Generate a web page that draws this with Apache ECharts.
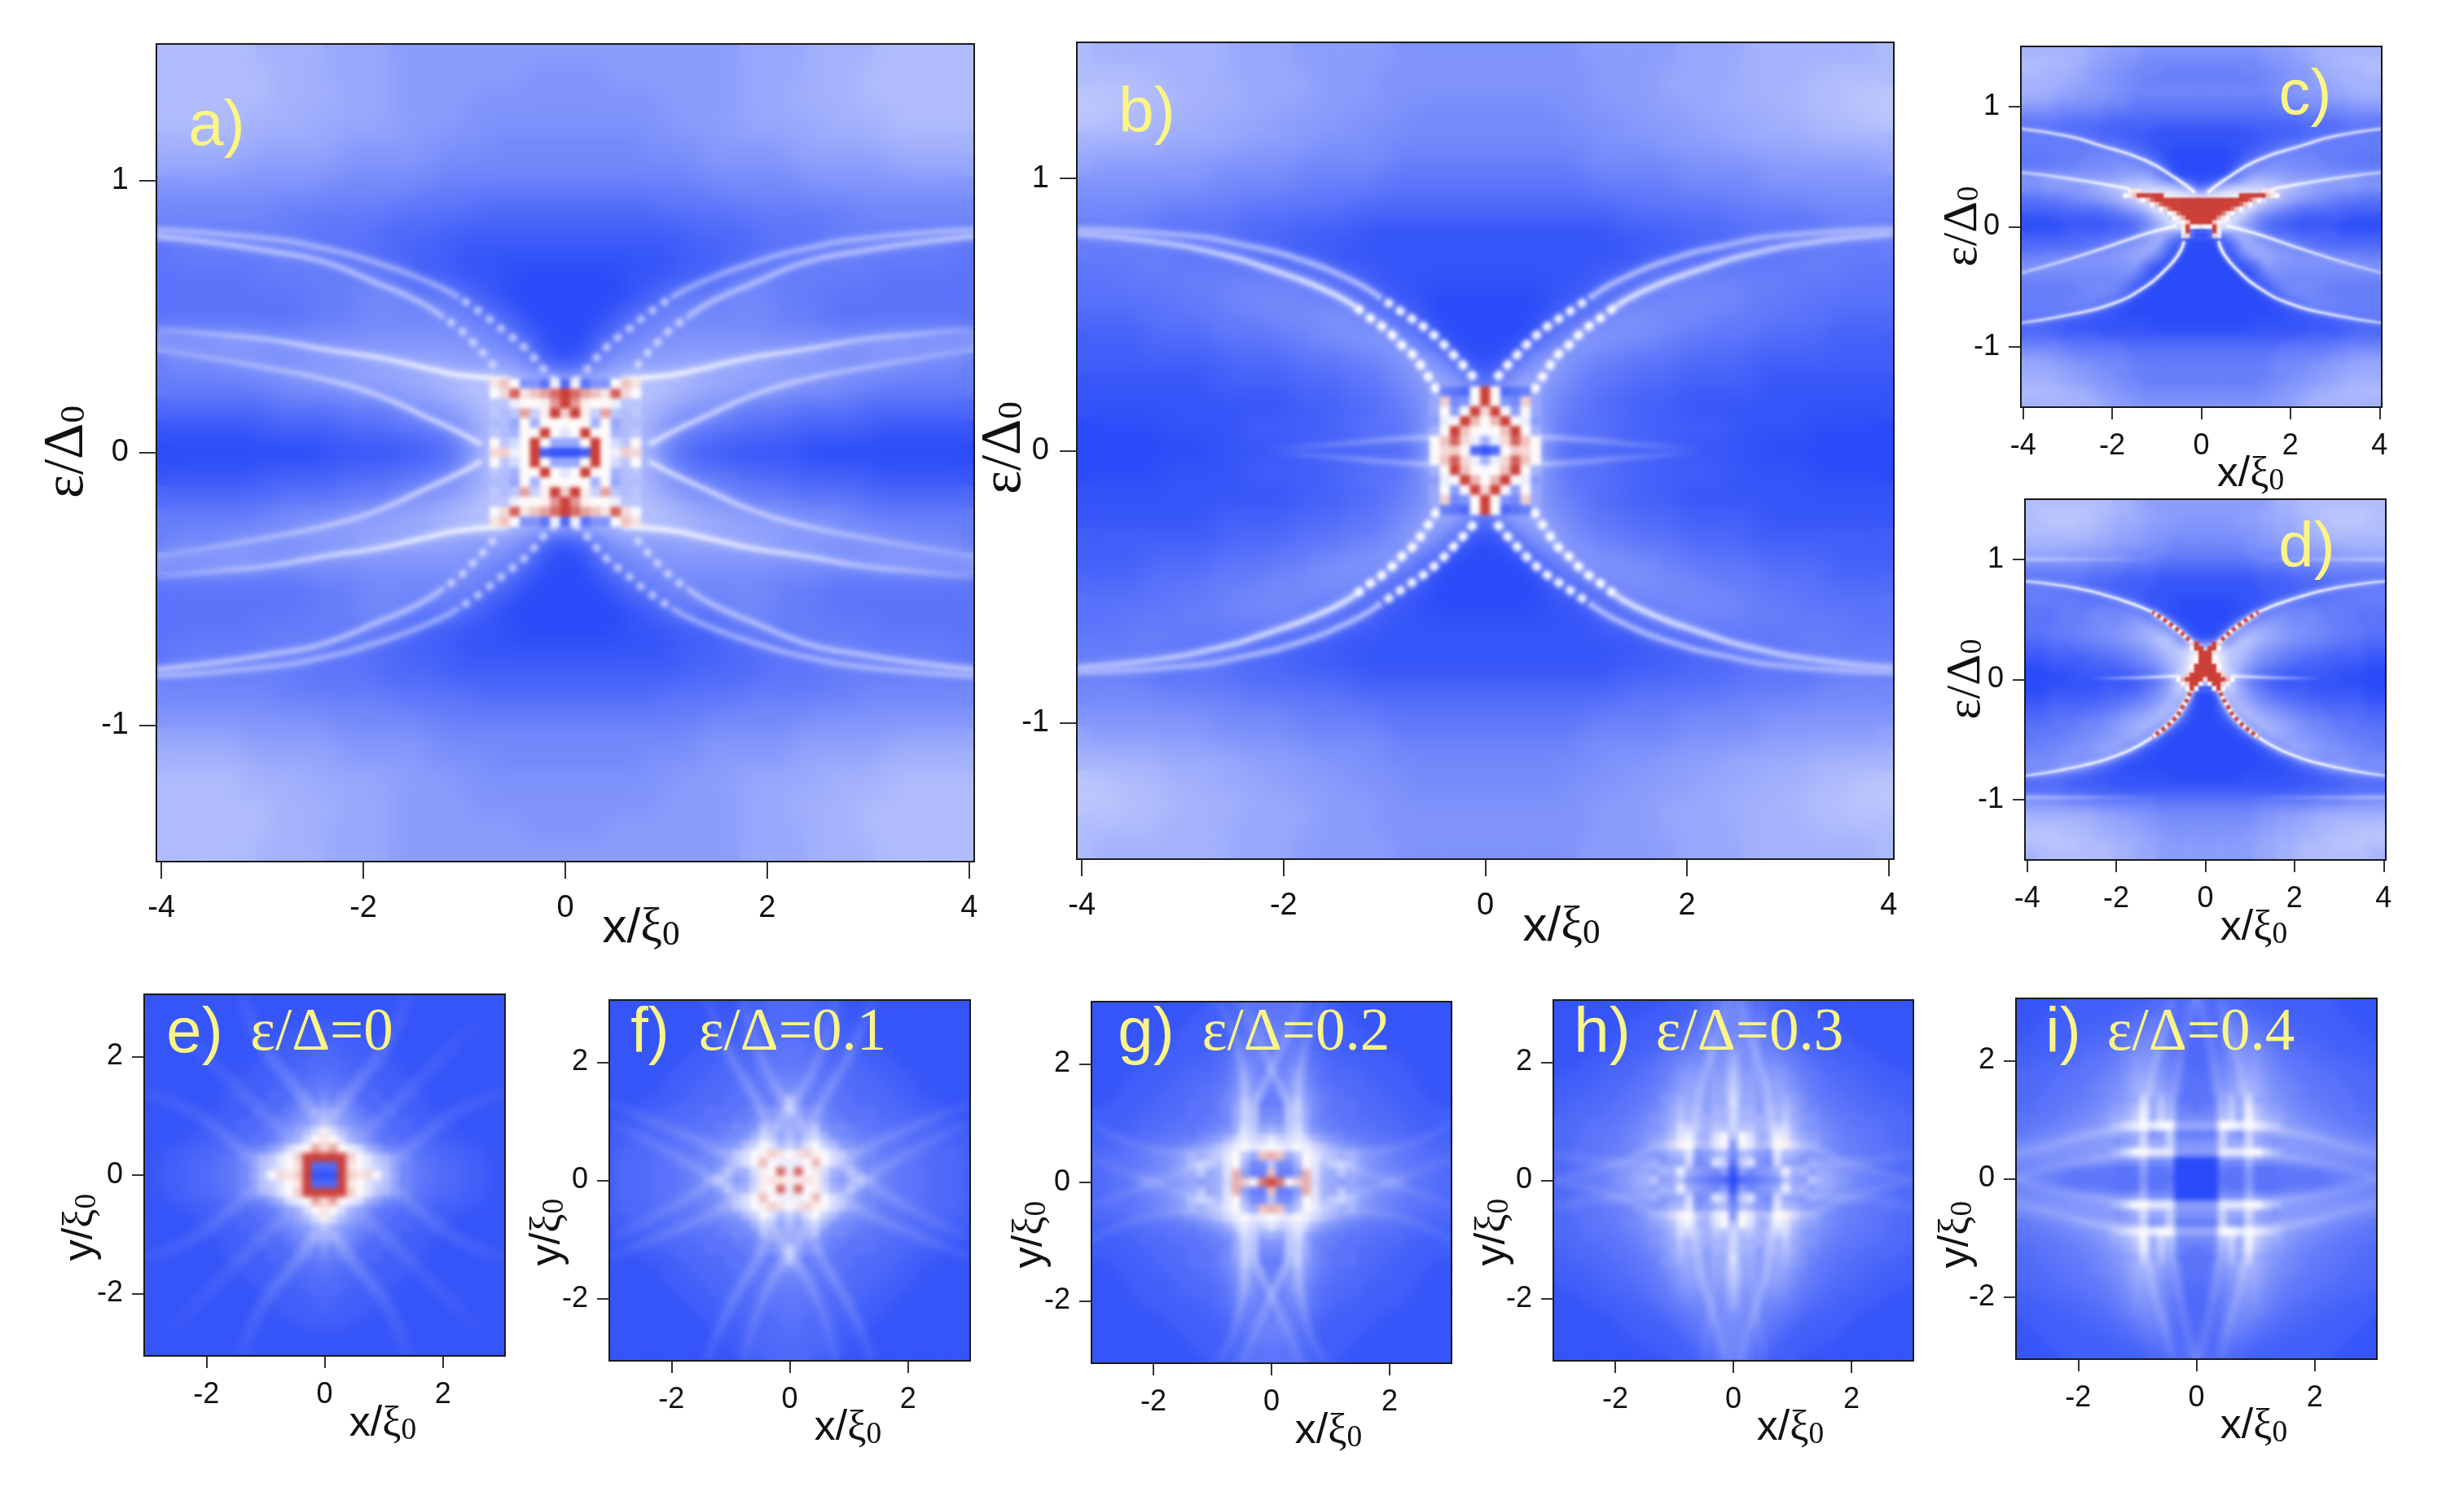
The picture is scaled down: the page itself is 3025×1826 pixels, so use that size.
<!DOCTYPE html>
<html>
<head>
<meta charset="utf-8">
<style>html,body{margin:0;background:#fff}#chart{width:3025px;height:1826px}</style>
<script src="https://cdn.jsdelivr.net/npm/echarts@6/dist/echarts.min.js"></script>
</head>
<body>
<div id="chart"></div>
<script>
// Levels, one base-36 character per cell:
// 0 deep blue, i white, z red, '.' no cell.
// a, b, e-i are typed as one quadrant (rows top to centre, columns centre to edge)
// because the picture is symmetric. c, d are typed top to bottom, right half only.

var bigXTicks = [-4, -2, 0, 2, 4];
var bigYTicks = [-1, 0, 1];
var mapTicks = [-2, 0, 2];
var panelLetters = ['a)', 'b)', 'c)', 'd)', 'e)', 'f)', 'g)', 'h)', 'i)'];
var mapEnergies = ['ε/Δ=0', 'ε/Δ=0.1', 'ε/Δ=0.2', 'ε/Δ=0.3', 'ε/Δ=0.4'];

var aCoarse = [
  '888888888889999aaaabbbbbb','777888888889999aaabbbbbbb','77777788888999aaaabbbbbbb',
  '7777777888899999aaaabbbbb','6666677778888899999aaaaaa','6666666677777788888899999',
  '5555555556666667777777777','3333334444455555556666666','2222222233334444555555555',
  '1111111222334445555555554','0000111223455555555444444','0000124555666555444444444',
  '0002456666666555444444444','0035677777777777777888888','1258888999999888777776665',
  'cccccccba9988877766555555','bbbbbb9877655544443333333','bbbbba7654433322222111111',
  'ccccca6322111110000000000'
];
var aCenter = ['3g477hnk','zvqnkwlh','zrjiigcc','mzjdqcbc','iiiai9bb','fiziiabc','99izieci','112zigml'];
var aArcInnerNear = [[.09,.26],[.2,.30],[.3,.345],[.4,.385],[.495,.415],[.6,.445],[.7,.475],[.8,.505],[1.05,.57]];
var aArcInnerFar = [[1.05,.57],[1.31,.62],[1.85,.695],[2.39,.75],[2.93,.785],[4.06,.82]];
var aArcOuterNear = [[.7,.315],[.8,.36],[.9,.40],[.99,.435],[1.1,.47],[1.2,.495]];
var aArcOuterFar = [[1.2,.495],[1.45,.555],[1.85,.62],[2.39,.70],[2.93,.74],[3.47,.77],[4.06,.795]];
var aFlareUpper = [[.56,.27],[1.05,.285],[1.31,.305],[1.85,.35],[2.39,.38],[2.93,.415],[3.47,.435],[4.06,.455]];
var aFlareLower = [[.83,.03],[1.05,.075],[1.37,.13],[1.85,.21],[2.39,.27],[2.93,.31],[3.47,.345],[4.06,.38]];

var bCoarse = [
  '7777778888889999aaaaaaaab','7777777888899999aaaabbbbb','777777788889999aaaabbbccc',
  '66666777788889999aaabbbcc','66666667777888899999aaaaa','5555556666667777788888889',
  '4444444555556666677777777','3333333334444445555566666','1111111122223333444445555',
  '1111111111222334444555555','1111111223445555555555444','0000112345566666555444444',
  '0000235677766655544443333','0002578776655444433332222','0148976554443333222222222',
  '36a9765443332222211111111','8ba8654332221111111111111','acc9644433222221111100000',
  'ccca533322221111100000000'
];
var bCenter = ['zi345.','zi76m9','lzh8i9','iozhg8','hinzia','aglwni','13imli'];
var bArcUpperNear = [[.107,.265],[.21,.31],[.31,.35],[.41,.39],[.51,.425],[.61,.455],[.71,.48],[.81,.505],[1.05,.565]];
var bArcUpperFar = [[1.05,.565],[1.32,.625],[1.855,.705],[2.39,.755],[2.93,.79],[4.06,.815]];
var bArcLowerNear = [[.417,.17],[.51,.24],[.61,.295],[.70,.345],[.806,.38],[.91,.42],[1.0,.45],[1.115,.48],[1.29,.53]];
var bArcLowerFar = [[1.29,.53],[1.585,.59],[2.12,.665],[2.66,.725],[3.33,.77],[4.06,.795]];
var bStreak = [[.5,.05],[1.0,.04],[1.6,.02],[2.2,.01]];

var cCoarse = [
  '77777788899aaaaaa','66666677889aabbbb','555566677889aaabb','5555556677899aaaa','66666667788899aaa',
  '55555556677788999','44444445556666777','33333333344445555','11111222223333444','11111122334455555',
  '00011234555555555','00002456666555444','00025677766655555','00037a99888888877','17bddddcba9888877',
  'iiiiiidca98765544','iiiiica8654443333','iiieb754322222111','gggd8632211110000','0038b764433332222',
  '0013a987654333333','00026a98877766655','00001397777777777','00000257666666666','00000125666655555',
  '00000013666555555','00000001246665555','00000000112345555','00000111111112233','11111111112222333',
  '33333333444445555','44444445555566777','55555556667788999','55555556677889999','55555566778899aaa',
  '66666677889aabbbb','7777777889aaaaaaa'
];
var cCenter = [
  '..............kkj.','.........zzzzzznki','zzzzzzzzzzzvnie...','zzzzzzzzzvnid.....','zzzzzzzvnid.......',
  'zzzzzvlid.........','zzzzqkid..........','zzznjg............','kiizke............','224zg.............','113mf.............'
];
var cArcUpper = [[.14,.28],[.245,.315],[.56,.40],[1.26,.553],[2.3,.68],[3.0,.755],[4.06,.816]];
var cArcLower = [[.385,-.12],[.52,-.235],[.84,-.37],[1.26,-.50],[1.96,-.635],[3.0,-.735],[4.06,-.80]];
var cFlareUpper = [[1.6,.315],[3,.403],[4.06,.453]];
var cFlareLower = [[.42,.015],[.63,.0025],[1.26,-.06],[1.96,-.148],[3,-.273],[4.06,-.385]];

var dCoarse = [
  '8888889aabbbbbbbb','8888899aabbcccccb','777888999abbcccbb','777778899aabbbbbb','66667788899aaaaaa',
  '55556667788889999','44444555666777777','22222333444555555','11111222233344444','11111122233444555',
  '00011123444455555','00001256666555444','00025787666555444','00279a98776655544','016bda98766554433',
  'iidca876554433322','iicb9765433222211','iida7543222211100','iif95321111110000','01fa7532221111100',
  '00ba8654332222211','006ca876544333322','0028ca98765544433','00026ba9876655444','000015a9877665554',
  '00000137a98776655','00000012488777666','00000000124688777','00001111111223444','11111111122223333',
  '33333333333444555','55555666667778888','66666778899aaaaaa','7777788999aabbbbb','777788999aabbbccc',
  '8888899aabbbcccbb','8888899aabbbbbbba'
];
var dCenter = [
  '..zm...','.zzi...','zzk....','zzi....','zzi....','zzzi...','zzzk...','zzzzm..','kzzzzpi','aizzmg.','22izi..'
];
var dArcUpperNear = [[.14,.236],[.35,.324],[.70,.437],[1.19,.562]];
var dArcUpperFar = [[1.19,.562],[1.89,.662],[2.94,.763],[4.06,.818]];
var dArcLowerNear = [[.245,.01],[.315,-.09],[.49,-.216],[.73,-.341],[1.19,-.479]];
var dArcLowerFar = [[1.19,-.479],[1.89,-.617],[2.94,-.73],[4.06,-.80]];
var dStreak = [[.56,.03],[1.54,.015],[2.6,.01]];
var dBandUpper = [[1,1],[4.06,1]];
var dBandLower = [[1,-.98],[4.06,-.98]];

var eMap = [
  '111111111111111111111','111111111111111111111','111111111111111111111','222111111111111111111',
  '222221111111111111111','322222111111111111111','332222211111111111111','333222221111111111111',
  '433322222111111111111','443332222211111111111','544333222221111111111','655433322222111111111',
  '866543332222111111111','a97654333222211111111','ca8765433322221111111','jeb975443332222111111',
  'kiea86544333222211111','lqigea865443332222111','zzzmifca7654433322211','33zkifdb8654433322211',
  '11zmklhc9654433322211'
];
var eRayUpper = [[.15,1.0],[.55,1.55],[1.05,2.2],[1.4,3.05]];
var eRaySide = [[1.0,.15],[1.55,.55],[2.2,1.05],[3.05,1.4]];
var eRayDiagonal = [[.6,.6],[1.5,1.5],[2.6,2.6]];

var fMap = [
  '333222111111111111111','333332211111111111111','433332221111111111111','433332222111111111111',
  '443333222211111111111','444333322221111111111','544433332222111111111','544443333222211111111',
  '655443333322221111111','655544433332222111111','765544433333222111111','a75544443333322221111',
  'b87655444433332222111','987665544443333322211','a98b76655444433332221','b9bda7665544443333222',
  'dbfhdb876554444333322','hkmjhec87655544433332','gghoheb97665544433332','gwhjea9b8665544433332',
  'jjkjd98ab875544433332'
];
var fRayOuter = [[.35,.9],[.7,1.6],[1.0,2.1],[1.4,3.05]];
var fRayCross = [[.4,.7],[0,1.25],[-.45,2.0],[-.8,3.05]];
var fRaySide = [[.9,.35],[1.6,.7],[3.05,1.3]];
var fRaySideCross = [[.7,.4],[1.25,0],[2.0,-.45],[3.05,-1.0]];

var gMap = [
  '444432221111111111111','444432222111111111111','554432222211111111111','655432222221111111111',
  '655533222222111111111','555543322222211111111','555654332222222111111','556754333322222211111',
  '557964433332222221111','557a64443333222221111','558a76444333322222111','558b86544433332222211',
  '669b96544433333222222','779b96554444333322222','a9ad97655444433332222','fdcfca876554444333322',
  'hgfifdb98765554443333','pn9cifcb9a87665544433','c66aifbcdb98765544433','n558pfa9c987665544433',
  'zuimpea9898778a654433'
];
var gRayCross = [[.32,.6],[.3,1.2],[.15,1.6],[0,1.9],[-.5,3.05]];
var gRayOuter = [[.6,.55],[.45,1.2],[.55,2.2],[.9,3.05]];
var gRaySideCross = [[.6,.45],[1.16,.3],[2,0],[3.05,-.4]];
var gRaySide = [[.55,.6],[1.5,.5],[3.05,.98]];

var hMap = [
  '554322221111111111111','665332222211111111111','665443222222111111111','665544322222211111111',
  '766554432222221111111','776655443322222111111','876666554333222221111','a76677654433322222111',
  'b87779765443333222221','d87789865544333322222','e97889976544433332222','d98889a87554443333322',
  'ba989ab97655444333332','ba9a9ac98765544443333','abbaadea8766554444333','8hea9gfb9876555444333',
  '7ifbbijda987655544433','6a987fba8766555444433','4cf76e987977665544433','186789g9a8a9876554433',
  '034567c98cb9876554433'
];
var hRayOuter = [[.65,.6],[.6,1.3],[.3,2.4],[.1,3.05]];
var hRayInner = [[.2,.22],[.3,1.2],[.35,2],[.55,3.05]];
var hRayAxis = [[.02,.7],[.02,1.5],[.02,2.2]];
var hRaySideOuter = [[.66,.62],[1.3,.55],[2,.27],[3.05,0]];
var hRaySideInner = [[.7,.12],[1.3,.25],[2,.3],[3.05,.45]];

var iMap = [
  '533333222222222211111','533443332222222221111','333455433322222222111','333465543333222222211',
  '333566654433332222221','333566765443333222222','333576876544433332222','334576976554443333322',
  '344686a87655444433333','444697b97665544443333','4447a7c98766554444333','4448b8d98766555444433',
  '4559c9fb9876655544433','666ad9gca987665554444','999ihfhfdb98776655544','555c87c98888887766554',
  '777c99d98777777777766','888fffihda98888777777','000766a76667777777766','000544844444444555555',
  '000444744444444456777'
];
var iLensTop = [[.9,.88],[1.8,.75],[2.45,.57],[3.05,.41]];
var iLensMid = [[.92,.41],[1.9,.3],[3.05,.04]];
var iLensRight = [[.88,.9],[.71,1.94],[.55,2.45],[.41,3.05]];
var iLensInner = [[.41,.93],[.3,1.9],[.04,3.05]];
var iBoxTop = [[.41,.93],[.88,.88]];
var iBoxMid = [[.43,.41],[.92,.41]];
var iBoxRight = [[.88,.88],[.9,.41]];
var iBoxInner = [[.41,.93],[.43,.41]];

// helpers
function mirrorX(rows) {
  return rows.map(function(r) { return r.split('').reverse().slice(0, -1).join('') + r; });
}
function mirrorY(rows) {
  return rows.concat(rows.slice(0, -1).reverse());
}
function range(n) {
  var out = [];
  for (var i = 0; i < n; i++) out.push(String(i));
  return out;
}
function cells(rows, nx, ny, top) {
  var out = [];
  var left = Math.floor((nx - rows[0].length) / 2);
  rows.forEach(function(r, j) {
    for (var i = 0; i < r.length; i++) {
      if (r[i] != '.') out.push([left + i, ny - 1 - top - j, parseInt(r[i], 36)]);
    }
  });
  return out;
}
// keeps only the middle of a map, the rest is left to the wider blur
function middle(rows, half) {
  var c = (rows.length - 1) / 2;
  return rows.map(function(r, j) {
    return r.split('').map(function(ch, i) {
      return Math.abs(i - c) <= half && Math.abs(j - c) <= half ? ch : '.';
    }).join('');
  });
}

var full = function(q) { return mirrorY(mirrorX(q)); };

// canvas layers: the CSS blur set on them at the end stands in for the
// smoothing of the original image
var BASE = 0, SOFT_BIG = 1, SOFT_SIDE = 2, SOFT_WIDE = 3, SOFT_MAP = 4, MARK_BIG = 5, MARK_SIDE = 6, MARK_MAP = 7, TOP = 8;
var layerBlur = [[SOFT_BIG, 14], [SOFT_SIDE, 7], [SOFT_WIDE, 9], [SOFT_MAP, 3], [MARK_BIG, 2.5], [MARK_SIDE, 1], [MARK_MAP, 4]];

// layout of each panel, in page pixels
var panels = [
  {grid: [192, 54, 1004, 1004], xMax: 4.05, yMax: 1.5, big: true, soft: SOFT_BIG, mark: MARK_BIG, coarse: full(aCoarse), fine: full(aCenter), fineNy: 83,
   letter: [266, 156], xName: [787, 1140], yName: [83, 555]},
  {grid: [1322, 52, 1003, 1003], xMax: 4.05, yMax: 1.5, big: true, soft: SOFT_BIG, mark: MARK_BIG, coarse: full(bCoarse), fine: full(bCenter), fineNy: 83,
   letter: [1408, 140], xName: [1917, 1138], yName: [1234, 550]},
  {grid: [2481, 57, 443, 443], xMax: 4.05, yMax: 1.5, soft: SOFT_SIDE, mark: MARK_SIDE, coarse: mirrorX(cCoarse), fine: mirrorX(cCenter), fineNy: 81, fineTop: 32,
   letter: [2830, 118], xName: [2763, 583], yName: [2410, 278]},
  {grid: [2486, 613, 443, 443], xMax: 4.05, yMax: 1.5, soft: SOFT_SIDE, mark: MARK_SIDE, coarse: mirrorX(dCoarse), fine: mirrorX(dCenter), fineNy: 81, fineTop: 32,
   letter: [2832, 674], xName: [2767, 1140], yName: [2414, 834]},
  {grid: [177, 1221, 443, 444], xMax: 3.05, yMax: 3.05, map: true, soft: SOFT_WIDE, mark: MARK_MAP, coarse: full(eMap),
   letter: [239, 1270], energy: [395, 1270], xName: [470, 1749], yName: [99, 1507]},
  {grid: [748, 1228, 443, 443], xMax: 3.05, yMax: 3.05, map: true, soft: SOFT_WIDE, mark: MARK_MAP, coarse: full(fMap),
   letter: [798, 1270], energy: [973, 1270], xName: [1041, 1754], yName: [673, 1513]},
  {grid: [1340, 1230, 442, 444], xMax: 3.05, yMax: 3.05, map: true, soft: SOFT_WIDE, mark: MARK_MAP, coarse: full(gMap),
   letter: [1407, 1270], energy: [1591, 1270], xName: [1631, 1758], yName: [1265, 1516]},
  {grid: [1907, 1228, 442, 443], xMax: 3.05, yMax: 3.05, map: true, soft: SOFT_WIDE, mark: MARK_MAP, coarse: full(hMap),
   letter: [1967, 1270], energy: [2148, 1270], xName: [2198, 1754], yName: [1833, 1513]},
  {grid: [2475, 1226, 443, 443], xMax: 3.05, yMax: 3.05, map: true, soft: SOFT_WIDE, mark: MARK_MAP, coarse: full(iMap),
   letter: [2533, 1270], energy: [2702, 1270], xName: [2767, 1752], yName: [2402, 1516]}
];

var option = {
  animation: false,
  backgroundColor: '#fff',
  grid: [], xAxis: [], yAxis: [], series: [], graphic: [],
  visualMap: {type: 'continuous', show: false, min: 0, max: 35, dimension: 2, seriesIndex: [],
    inRange: {color: ['#2a4bf8', '#ffffff', '#cc3f38']}}
};
var valueAxis = [];

function hiddenAxes(g, nx, ny) {
  option.xAxis.push({type: 'category', gridIndex: g, data: range(nx), show: false});
  option.yAxis.push({type: 'category', gridIndex: g, data: range(ny), show: false});
  return option.xAxis.length - 1;
}
function heat(g, rows, nx, ny, top, layer) {
  var ax = hiddenAxes(g, nx, ny);
  option.visualMap.seriesIndex.push(option.series.length);
  option.series.push({type: 'heatmap', xAxisIndex: ax, yAxisIndex: ax, zlevel: layer, progressive: 0, silent: true,
    data: cells(rows, nx, ny, top), itemStyle: {borderWidth: 0}});
}

function nameText(text, pos, rotation, size, big) {
  var greek = big ? size * 1.15 : size;
  return {type: 'text', x: pos[0], y: pos[1], rotation: rotation, zlevel: TOP, style: {
    text: text, align: 'center', verticalAlign: 'middle', fill: '#111',
    rich: {
      a: {fontFamily: 'Liberation Sans', fontSize: size, lineHeight: size * 1.2},
      b: {fontFamily: 'Liberation Serif', fontSize: greek, lineHeight: size * 1.2},
      c: {fontFamily: 'Liberation Serif', fontSize: size * .72, lineHeight: size * 1.2, padding: [size * .3, 0, 0, 0]}
    }
  }};
}

panels.forEach(function(p, g) {
  var ticksX = p.map ? mapTicks : bigXTicks;
  var ticksY = p.map ? mapTicks : bigYTicks;
  var fontSize = p.big ? 38 : 36;
  var tick = p.big ? 21 : 15;
  var font = 'Liberation Sans';
  option.grid.push({left: p.grid[0], top: p.grid[1], width: p.grid[2], height: p.grid[3], show: true, zlevel: TOP,
    backgroundColor: 'transparent', borderColor: '#1a1a1a', borderWidth: 2});
  option.xAxis.push({type: 'value', gridIndex: g, min: -p.xMax, max: p.xMax, splitLine: {show: false},
    axisLine: {show: true, onZero: false, lineStyle: {color: '#1a1a1a', width: 2}},
    axisTick: {show: true, length: tick, customValues: ticksX, lineStyle: {color: '#333', width: 2}},
    axisLabel: {customValues: ticksX, fontSize: fontSize, fontFamily: font, color: '#111', margin: p.big ? 39 : 30}});
  option.yAxis.push({type: 'value', gridIndex: g, min: -p.yMax, max: p.yMax, splitLine: {show: false},
    axisLine: {show: true, onZero: false, lineStyle: {color: '#1a1a1a', width: 2}},
    axisTick: {show: true, length: tick, customValues: ticksY, lineStyle: {color: '#333', width: 2}},
    axisLabel: {customValues: ticksY, fontSize: fontSize, fontFamily: font, color: '#111', margin: p.big ? 34 : 26}});
  valueAxis.push(option.xAxis.length - 1);

  var nx = p.coarse[0].length, ny = p.coarse.length;
  heat(g, p.coarse, nx, ny, 0, BASE);
  heat(g, p.coarse, nx, ny, 0, p.soft);
  if (p.map) heat(g, middle(p.coarse, 9), nx, ny, 0, SOFT_MAP);
  if (p.fine) {
    var top = p.fineTop === undefined ? (p.fineNy - p.fine.length) / 2 : p.fineTop;
    heat(g, p.fine, 81, p.fineNy, top, p.mark);
  }

  var scaleText = p.big ? 60 : 52;
  option.graphic.push(nameText('{a|x/}{b|ξ}{c|0}', p.xName, 0, scaleText, false));
  option.graphic.push(nameText(p.map ? '{a|y/}{b|ξ}{c|0}' : '{b|ε/Δ}{c|0}', p.yName, Math.PI / 2, scaleText, !p.map));
  option.graphic.push({type: 'text', x: p.letter[0], y: p.letter[1], zlevel: TOP,
    style: {text: panelLetters[g], fill: '#faf585', font: '78px "Liberation Sans"', align: 'center', verticalAlign: 'middle'}});
  if (p.energy) {
    option.graphic.push({type: 'text', x: p.energy[0], y: p.energy[1], zlevel: TOP,
      style: {text: mapEnergies[g - 4], fill: '#faf585', font: '73px "Liberation Serif"', align: 'center', verticalAlign: 'middle'}});
  }
});

// a single ridge drawn as a glowing white line, copied to the mirrored quadrants
function ridge(g, points, w, a0, a1, blur, dash, mx, my) {
  var xs = mx ? [1, -1] : [1];
  var ys = my ? [1, -1] : [1];
  var ax = valueAxis[g];
  var p = panels[g];
  xs.forEach(function(sx) {
    ys.forEach(function(sy) {
      var pts = points.map(function(q) { return [q[0] * sx, q[1] * sy]; });
      var a = pts[0], b = pts[pts.length - 1];
      var dx = (b[0] - a[0]) / p.xMax, dy = (b[1] - a[1]) / p.yMax;
      var grad = {type: 'linear', x: 0, y: 0, x2: 0, y2: 0, colorStops: [
        {offset: 0, color: 'rgba(255,255,255,' + a0 + ')'}, {offset: 1, color: 'rgba(255,255,255,' + a1 + ')'}]};
      if (Math.abs(dx) >= Math.abs(dy)) {
        if (dx > 0) grad.x2 = 1; else grad.x = 1;
      } else {
        if (dy < 0) grad.y2 = 1; else grad.y = 1;
      }
      option.series.push({type: 'line', xAxisIndex: ax, yAxisIndex: ax, zlevel: p.mark, z: 1, data: pts, smooth: .5, showSymbol: false, silent: true,
        lineStyle: {width: w, color: grad, type: dash || 'solid', shadowColor: '#fff', shadowBlur: blur}});
    });
  });
}

function red(g, points, w, dash, mx) {
  (mx ? [1, -1] : [1]).forEach(function(sx) {
    option.series.push({type: 'line', xAxisIndex: valueAxis[g], yAxisIndex: valueAxis[g], zlevel: panels[g].mark, z: 1, showSymbol: false, silent: true, smooth: .5,
      data: points.map(function(q) { return [q[0] * sx, q[1]]; }),
      lineStyle: {width: w, color: '#cc3f38', type: dash}});
  });
}

var beadA = [9, 9], beadB = [10, 7];
ridge(0, aArcInnerNear, 8, .42, .42, 6, beadA, true, true);
ridge(0, aArcInnerFar, 6, .3, .3, 8, null, true, true);
ridge(0, aArcOuterNear, 8, .42, .42, 6, beadA, true, true);
ridge(0, aArcOuterFar, 6, .34, .4, 8, null, true, true);
ridge(0, aFlareUpper, 5, .9, .14, 10, null, true, true);
ridge(0, aFlareLower, 5, .6, .12, 10, null, true, true);

ridge(1, bArcUpperNear, 9, .95, .7, 4, beadB, true, true);
ridge(1, bArcUpperFar, 6, .45, .28, 8, null, true, true);
ridge(1, bArcLowerNear, 9, 1, .9, 5, beadB, true, true);
ridge(1, bArcLowerFar, 6, .7, .34, 10, null, true, true);
ridge(1, bStreak, 5, .35, 0, 8, null, true, true);

ridge(2, cArcUpper, 3, .95, .5, 5, null, true, false);
ridge(2, cArcLower, 3, .95, .5, 5, null, true, false);
ridge(2, cFlareUpper, 3, .8, .4, 5, null, true, false);
ridge(2, cFlareLower, 3, .95, .35, 5, null, true, false);

ridge(3, dArcUpperNear, 5, 1, 1, 6, null, true, false);
ridge(3, dArcUpperFar, 3, .95, .6, 6, null, true, false);
ridge(3, dArcLowerNear, 5, 1, 1, 6, null, true, false);
ridge(3, dArcLowerFar, 3, .95, .6, 6, null, true, false);
ridge(3, dStreak, 3, .7, 0, 5, null, true, false);
ridge(3, dBandUpper, 5, 0, .25, 6, null, true, false);
ridge(3, dBandLower, 5, 0, .25, 6, null, true, false);
red(3, dArcUpperNear, 5, [5, 4], true);
red(3, dArcLowerNear, 5, [5, 4], true);

ridge(4, eRayUpper, 16, .2, .03, 0, null, true, true);
ridge(4, eRaySide, 16, .15, .03, 0, null, true, true);
ridge(4, eRayDiagonal, 16, .13, .01, 0, null, true, true);

ridge(5, fRayOuter, 12, .28, .06, 0, null, true, true);
ridge(5, fRayCross, 12, .28, .06, 0, null, true, true);
ridge(5, fRaySide, 12, .2, .05, 0, null, true, true);
ridge(5, fRaySideCross, 12, .2, .05, 0, null, true, true);

ridge(6, gRayCross, 8, .55, .08, 0, null, true, true);
ridge(6, gRayOuter, 8, .5, .08, 0, null, true, true);
ridge(6, gRaySideCross, 8, .22, .07, 0, null, true, true);
ridge(6, gRaySide, 8, .22, .07, 0, null, true, true);

ridge(7, hRayOuter, 8, .5, .08, 0, null, true, true);
ridge(7, hRayInner, 7, .3, .08, 0, null, true, true);
ridge(7, hRayAxis, 8, .45, .1, 0, null, true, true);
ridge(7, hRaySideOuter, 8, .25, .08, 0, null, true, true);
ridge(7, hRaySideInner, 8, .22, .08, 0, null, true, true);

ridge(8, iLensTop, 8, .4, .1, 0, null, true, true);
ridge(8, iLensMid, 8, .3, .1, 0, null, true, true);
ridge(8, iLensRight, 8, .4, .1, 0, null, true, true);
ridge(8, iLensInner, 8, .3, .1, 0, null, true, true);
ridge(8, iBoxTop, 6, .3, .3, 0, null, true, true);
ridge(8, iBoxMid, 6, .3, .3, 0, null, true, true);
ridge(8, iBoxRight, 6, .28, .28, 0, null, true, true);
ridge(8, iBoxInner, 6, .28, .28, 0, null, true, true);

var myChart = echarts.init(document.getElementById('chart'), null, {renderer: 'canvas'});
myChart.setOption(option);

// soften the marks inside the plot frames only
var clip = panels.map(function(p) {
  return 'M' + p.grid[0] + ' ' + p.grid[1] + 'h' + p.grid[2] + 'v' + p.grid[3] + 'h' + (-p.grid[2]) + 'z';
}).join(' ');
layerBlur.forEach(function(l) {
  var dom = myChart.getZr().painter.getLayer(l[0]).dom;
  dom.style.filter = 'blur(' + l[1] + 'px)';
  dom.style.clipPath = 'path("' + clip + '")';
});
</script>
</body>
</html>
